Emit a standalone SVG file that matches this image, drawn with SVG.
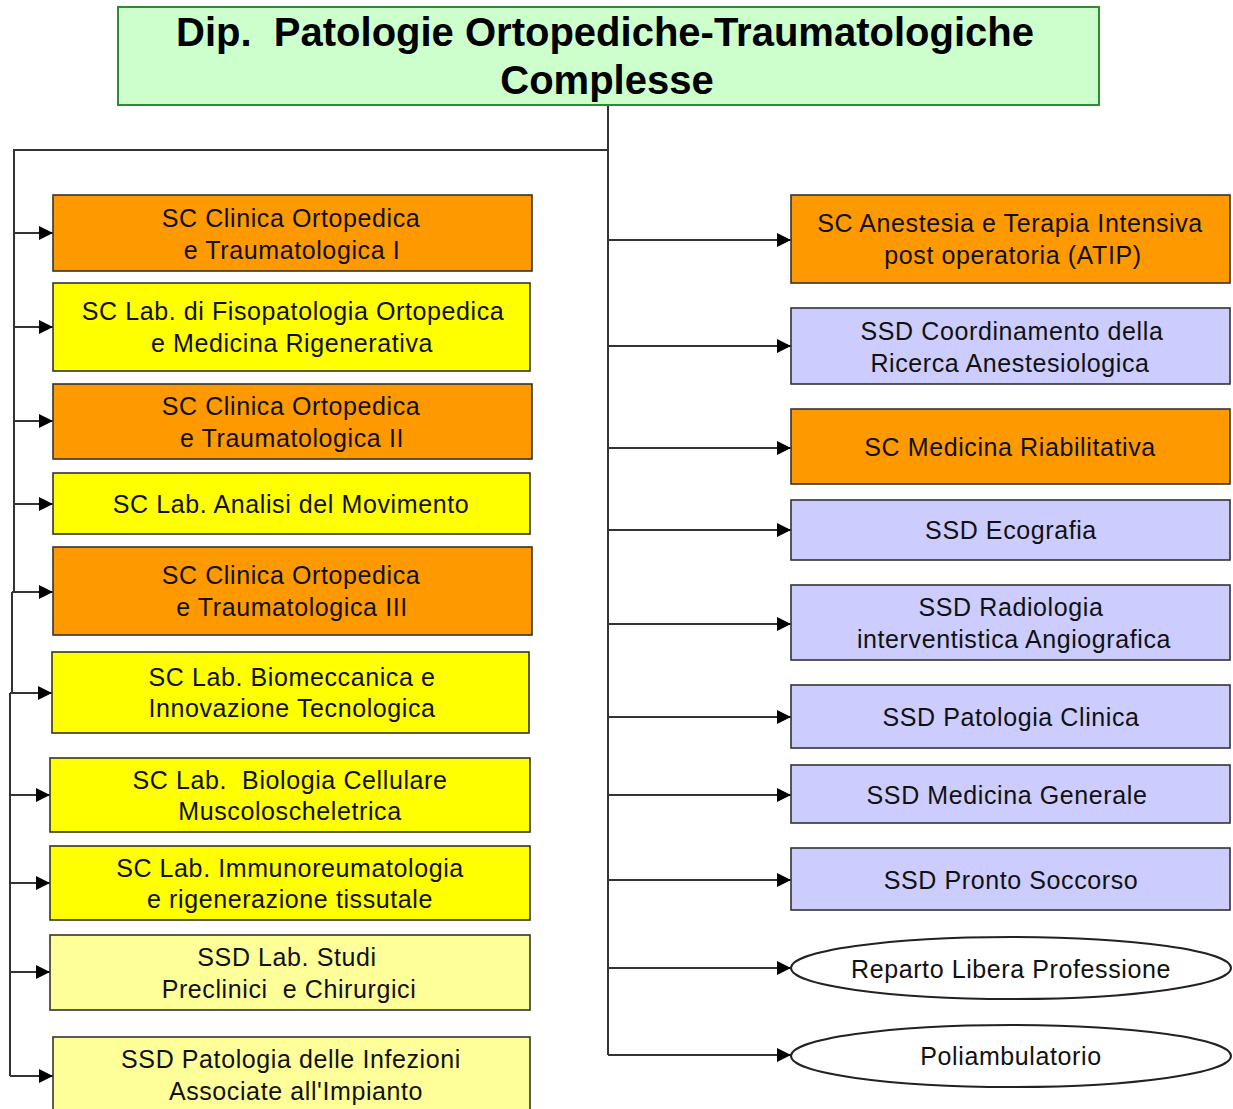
<svg xmlns="http://www.w3.org/2000/svg" width="1233" height="1109" viewBox="0 0 1233 1109">
  <defs>
    <marker id="arrow" markerUnits="userSpaceOnUse" markerWidth="14" markerHeight="14" refX="14" refY="7" orient="auto">
      <path d="M0,0 L14,7 L0,14 z" fill="#000"/>
    </marker>
    <style>
      .box { stroke: #333; stroke-width: 1.6; }
      .sc { fill: #ff9900; }
      .lab { fill: #ffff00; }
      .ssdl { fill: #ffff99; }
      .ssd { fill: #ccccff; }
      .ell { fill: #fff; stroke: #222; stroke-width: 2; }
      .t { font-family: "Liberation Sans", Arial, sans-serif; font-size: 25px; letter-spacing: 0.6px; fill: #111; text-anchor: middle; white-space: pre; }
      .title { font-family: "Liberation Sans", Arial, sans-serif; font-size: 40px; font-weight: bold; fill: #000; text-anchor: middle; white-space: pre; }
      .link { fill: none; stroke: #333; stroke-width: 2; }
      .arr { fill: none; stroke: #333; stroke-width: 2; marker-end: url(#arrow); }
    </style>
  </defs>
  <rect width="1233" height="1109" fill="#fff"/>

  <!-- connectors -->
  <g id="connectors">
    <path class="link" d="M608,105 V1055"/>
    <path class="link" d="M608,150 H14 V592"/>
    <path class="link" d="M12,592 V693"/>
    <path class="link" d="M10,693 V1076"/>
    <!-- left branches -->
    <path class="arr" d="M14,233 H53"/>
    <path class="arr" d="M14,327 H53"/>
    <path class="arr" d="M14,421 H53"/>
    <path class="arr" d="M14,504 H53"/>
    <path class="arr" d="M12,592 H53"/>
    <path class="arr" d="M10,693 H52"/>
    <path class="arr" d="M10,795 H50"/>
    <path class="arr" d="M10,883 H50"/>
    <path class="arr" d="M10,972 H50"/>
    <path class="arr" d="M10,1076 H53"/>
    <!-- right branches -->
    <path class="arr" d="M608,240 H791"/>
    <path class="arr" d="M608,346 H791"/>
    <path class="arr" d="M608,448 H791"/>
    <path class="arr" d="M608,530 H791"/>
    <path class="arr" d="M608,624 H791"/>
    <path class="arr" d="M608,717 H791"/>
    <path class="arr" d="M608,795 H791"/>
    <path class="arr" d="M608,880 H791"/>
    <path class="arr" d="M608,968 H791"/>
    <path class="arr" d="M608,1055 H791"/>
  </g>

  <!-- department header -->
  <g id="dipartimento">
    <rect x="118" y="7" width="981" height="98" fill="#ccffcc" stroke="#2e8b2e" stroke-width="2"/>
    <text class="title" x="605" y="46">Dip.  Patologie Ortopediche-Traumatologiche</text>
    <text class="title" x="607" y="94">Complesse</text>
  </g>

  <!-- left column -->
  <g id="clinica-ortopedica-1">
    <rect class="box sc" x="53" y="195" width="479" height="76"/>
    <text class="t" x="291" y="227">SC Clinica Ortopedica</text>
    <text class="t" x="292" y="259">e Traumatologica I</text>
  </g>
  <g id="lab-fisopatologia">
    <rect class="box lab" x="53" y="283" width="477" height="88"/>
    <text class="t" x="293" y="320">SC Lab. di Fisopatologia Ortopedica</text>
    <text class="t" x="292" y="352">e Medicina Rigenerativa</text>
  </g>
  <g id="clinica-ortopedica-2">
    <rect class="box sc" x="53" y="384" width="479" height="75"/>
    <text class="t" x="291" y="415">SC Clinica Ortopedica</text>
    <text class="t" x="292" y="447">e Traumatologica II</text>
  </g>
  <g id="lab-analisi-movimento">
    <rect class="box lab" x="53" y="473" width="477" height="61"/>
    <text class="t" x="291" y="513">SC Lab. Analisi del Movimento</text>
  </g>
  <g id="clinica-ortopedica-3">
    <rect class="box sc" x="53" y="547" width="479" height="88"/>
    <text class="t" x="291" y="584">SC Clinica Ortopedica</text>
    <text class="t" x="292" y="616">e Traumatologica III</text>
  </g>
  <g id="lab-biomeccanica">
    <rect class="box lab" x="52" y="652" width="477" height="81"/>
    <text class="t" x="292" y="686">SC Lab. Biomeccanica e</text>
    <text class="t" x="292" y="717">Innovazione Tecnologica</text>
  </g>
  <g id="lab-biologia-cellulare">
    <rect class="box lab" x="50" y="758" width="480" height="74"/>
    <text class="t" x="290" y="789">SC Lab.  Biologia Cellulare</text>
    <text class="t" x="290" y="820">Muscoloscheletrica</text>
  </g>
  <g id="lab-immunoreumatologia">
    <rect class="box lab" x="50" y="846" width="480" height="74"/>
    <text class="t" x="290" y="877">SC Lab. Immunoreumatologia</text>
    <text class="t" x="290" y="908">e rigenerazione tissutale</text>
  </g>
  <g id="lab-studi-preclinici">
    <rect class="box ssdl" x="50" y="935" width="480" height="75"/>
    <text class="t" x="287" y="966">SSD Lab. Studi</text>
    <text class="t" x="289" y="998">Preclinici  e Chirurgici</text>
  </g>
  <g id="patologia-infezioni">
    <rect class="box ssdl" x="53" y="1037" width="477" height="80"/>
    <text class="t" x="291" y="1068">SSD Patologia delle Infezioni</text>
    <text class="t" x="296" y="1100">Associate all'Impianto</text>
  </g>

  <!-- right column -->
  <g id="anestesia-atip">
    <rect class="box sc" x="791" y="195" width="439" height="88"/>
    <text class="t" x="1010" y="232">SC Anestesia e Terapia Intensiva</text>
    <text class="t" x="1013" y="264">post operatoria (ATIP)</text>
  </g>
  <g id="ricerca-anestesiologica">
    <rect class="box ssd" x="791" y="308" width="439" height="76"/>
    <text class="t" x="1012" y="340">SSD Coordinamento della</text>
    <text class="t" x="1010" y="372">Ricerca Anestesiologica</text>
  </g>
  <g id="medicina-riabilitativa">
    <rect class="box sc" x="791" y="409" width="439" height="75"/>
    <text class="t" x="1010" y="456">SC Medicina Riabilitativa</text>
  </g>
  <g id="ecografia">
    <rect class="box ssd" x="791" y="500" width="439" height="60"/>
    <text class="t" x="1011" y="539">SSD Ecografia</text>
  </g>
  <g id="radiologia">
    <rect class="box ssd" x="791" y="585" width="439" height="75"/>
    <text class="t" x="1011" y="616">SSD Radiologia</text>
    <text class="t" x="1014" y="648">interventistica Angiografica</text>
  </g>
  <g id="patologia-clinica">
    <rect class="box ssd" x="791" y="685" width="439" height="63"/>
    <text class="t" x="1011" y="726">SSD Patologia Clinica</text>
  </g>
  <g id="medicina-generale">
    <rect class="box ssd" x="791" y="765" width="439" height="58"/>
    <text class="t" x="1007" y="804">SSD Medicina Generale</text>
  </g>
  <g id="pronto-soccorso">
    <rect class="box ssd" x="791" y="848" width="439" height="62"/>
    <text class="t" x="1011" y="889">SSD Pronto Soccorso</text>
  </g>
  <g id="libera-professione">
    <ellipse class="ell" cx="1011" cy="968" rx="220" ry="31"/>
    <text class="t" x="1011" y="978">Reparto Libera Professione</text>
  </g>
  <g id="poliambulatorio">
    <ellipse class="ell" cx="1011" cy="1056" rx="220" ry="31"/>
    <text class="t" x="1011" y="1065">Poliambulatorio</text>
  </g>
</svg>
